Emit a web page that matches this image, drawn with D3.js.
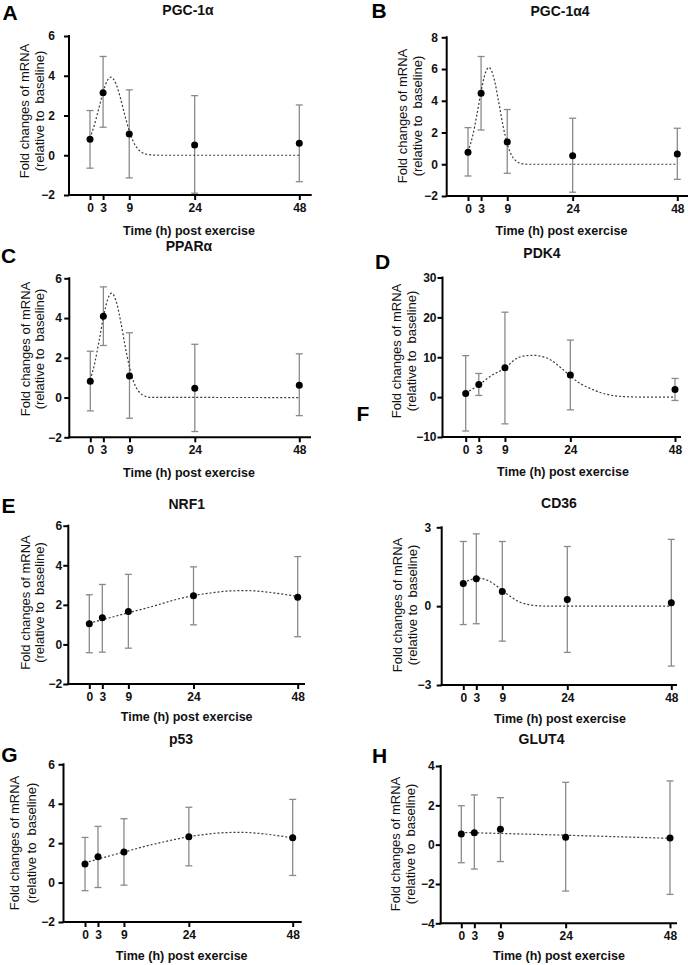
<!DOCTYPE html>
<html>
<head>
<meta charset="utf-8">
<script src="https://cdn.jsdelivr.net/npm/d3@7"></script>
<style>
  html, body { margin: 0; padding: 0; background: #fff; }
  svg { display: block; font-family: "Liberation Sans", Arial, sans-serif; }
</style>
</head>
<body>
<svg id="chart" width="688" height="965"></svg>
<script>
// ---------------- DATA ----------------
const times = [0, 3, 9, 24, 48];
const xTickValues = [0, 3, 9, 24, 48];
const xAxisTitle = "Time (h) post exercise";
const yTitleLine1 = "Fold changes of mRNA";
const yTitleLine2 = "(relative to  baseline)";

// A: PGC-1α
const pgc1aMean  = [0.81, 3.15, 1.07, 0.52, 0.60];
const pgc1aUpper = [2.25, 4.97, 3.29, 3.00, 2.53];
const pgc1aLower = [-0.65, 1.41, -1.14, -1.91, -1.33];
const pgc1aFitX  = [0, 1, 2, 3, 4, 4.8, 6, 7, 8, 9, 10, 11, 12, 13, 14, 16, 48];
const pgc1aFitY  = [0.86, 1.52, 2.34, 3.17, 3.77, 3.93, 3.57, 2.86, 2.0, 1.23, 0.66, 0.31, 0.13, 0.05, 0.02, 0, 0];
const pgc1aTicks = [-2, 0, 2, 4, 6];

// B: PGC-1α4
const pgc1a4Mean  = [0.76, 4.47, 1.41, 0.53, 0.65];
const pgc1a4Upper = [2.31, 6.79, 3.45, 2.90, 2.27];
const pgc1a4Lower = [-0.74, 2.16, -0.57, -1.76, -0.95];
const pgc1a4FitX  = [0, 1, 2, 3, 4, 4.8, 6, 7, 8, 9, 10, 11, 12, 13, 14, 48];
const pgc1a4FitY  = [0.8, 1.71, 3.06, 4.59, 5.77, 6.1, 5.37, 3.98, 2.47, 1.29, 0.56, 0.21, 0.06, 0.015, 0, 0];
const pgc1a4Ticks = [-2, 0, 2, 4, 6, 8];

// C: PPARα
const pparaMean  = [0.82, 4.09, 1.09, 0.47, 0.62];
const pparaUpper = [2.33, 5.57, 3.26, 2.68, 2.20];
const pparaLower = [-0.67, 2.62, -1.04, -1.71, -0.91];
const pparaFitX  = [0, 1, 2, 3, 4, 4.9, 6, 7, 8, 9, 10, 11, 12, 13, 14, 48];
const pparaFitY  = [0.9, 1.72, 2.83, 4.03, 4.95, 5.25, 4.8, 3.8, 2.59, 1.53, 0.77, 0.34, 0.13, 0.04, 0.01, 0];
const pparaTicks = [-2, 0, 2, 4, 6];

// D: PDK4
const pdk4Mean  = [0.92, 3.18, 7.36, 5.52, 1.92];
const pdk4Upper = [10.4, 5.94, 21.3, 14.3, 4.69];
const pdk4Lower = [-8.5, 0.42, -6.7, -3.18, -0.84];
const pdk4FitX  = [0, 3, 5.6, 9, 12, 14, 15.5, 17, 19.3, 22, 24, 26, 28.5, 31, 33, 36, 40, 48];
const pdk4FitY  = [1.05, 3.0, 5.2, 7.3, 9.9, 10.4, 10.5, 10.3, 9.45, 7.2, 5.3, 3.6, 2.2, 1.1, 0.55, 0.15, 0.02, 0];
const pdk4Ticks = [-10, 0, 10, 20, 30];

// E: NRF1
const nrf1Mean  = [1.04, 1.35, 1.67, 2.46, 2.39];
const nrf1Upper = [2.51, 3.03, 3.54, 3.92, 4.44];
const nrf1Lower = [-0.42, -0.39, -0.19, 0.99, 0.39];
const nrf1FitX  = [0, 3, 9, 15, 20, 24, 28, 32, 36, 40, 44, 48];
const nrf1FitY  = [1.08, 1.25, 1.6, 1.95, 2.27, 2.47, 2.6, 2.7, 2.72, 2.67, 2.56, 2.42];
const nrf1Ticks = [-2, 0, 2, 4, 6];

// F: CD36
const cd36Mean  = [0.86, 1.04, 0.56, 0.25, 0.13];
const cd36Upper = [2.46, 2.75, 2.46, 2.27, 2.54];
const cd36Lower = [-0.70, -0.67, -1.33, -1.76, -2.28];
const cd36FitX  = [0, 2, 3.5, 5, 7, 9, 11, 13, 15, 17, 20, 48];
const cd36FitY  = [0.89, 1.02, 1.06, 1.02, 0.85, 0.6, 0.35, 0.16, 0.06, 0.02, 0, 0];
const cd36Ticks = [-3, 0, 3];

// G: p53
const p53Mean  = [0.94, 1.31, 1.55, 2.33, 2.28];
const p53Upper = [2.29, 2.85, 3.24, 3.82, 4.22];
const p53Lower = [-0.41, -0.25, -0.13, 0.85, 0.36];
const p53FitX  = [0, 3, 9, 15, 20, 24, 28, 32, 36, 40, 44, 48];
const p53FitY  = [1.0, 1.19, 1.55, 1.9, 2.15, 2.33, 2.45, 2.53, 2.55, 2.5, 2.4, 2.26];
const p53Ticks = [-2, 0, 2, 4, 6];

// H: GLUT4
const glut4Mean  = [0.54, 0.61, 0.78, 0.37, 0.34];
const glut4Upper = [1.98, 2.53, 2.39, 3.17, 3.24];
const glut4Lower = [-0.92, -1.24, -0.86, -2.36, -2.53];
const glut4FitX  = [0, 9, 24, 48];
const glut4FitY  = [0.62, 0.57, 0.48, 0.32];
const glut4Ticks = [-4, -2, 0, 2, 4];

const geneNames = ["PGC-1α", "PGC-1α4", "PPARα", "PDK4", "NRF1", "CD36", "p53", "GLUT4"];
const panelLetters = ["A", "B", "C", "D", "E", "F", "G", "H"];

// ---------------- LAYOUT (positions only) ----------------
const layouts = [
  { left: 69,    x0: 90,    x48: 299.3, right: 311.7, top: 36,    bottom: 195,   yLabEnd: 55,    yt: [24, 39],       ytY: 111,  title: [188, 10],   xlab: [189, 231],   letter: [10, 12.5] },
  { left: 446.7, x0: 468,   x48: 677.3, right: 688,   top: 37.3,  bottom: 196,   yLabEnd: 438,   yt: [402, 417.5],   ytY: 116,  title: [560, 11],   xlab: [561.5, 231], letter: [379, 10.5] },
  { left: 69.3,  x0: 90.3,  x48: 299.3, right: 311,   top: 278.3, bottom: 437.3, yLabEnd: 62,    yt: [25, 39.5],     ytY: 349,  title: [189, 246],  xlab: [189, 473],   letter: [8.5, 255] },
  { left: 442.5, x0: 465.7, x48: 675,   right: 681,   top: 277.5, bottom: 437,   yLabEnd: 438.5, yt: [396, 411],     ytY: 351,  title: [542, 253],  xlab: [563, 472],   letter: [382.5, 261.5] },
  { left: 68.3,  x0: 89.3,  x48: 297.7, right: 305,   top: 525.7, bottom: 684,   yLabEnd: 65,    yt: [25.3, 39.7],   ytY: 602.5, title: [186.7, 504], xlab: [186.7, 717], letter: [8.5, 505.5] },
  { left: 441.7, x0: 463.3, x48: 671.3, right: 677,   top: 527.3, bottom: 685,   yLabEnd: 431.3, yt: [397.3, 412],   ytY: 605,  title: [559, 502.5], xlab: [560, 718.5], letter: [363, 413.5] },
  { left: 63.5,  x0: 85,    x48: 292.7, right: 301.7, top: 764.3, bottom: 922,   yLabEnd: 55,    yt: [14.7, 31],     ytY: 843,  title: [181, 739],  xlab: [181.7, 956], letter: [9.5, 754.5] },
  { left: 440.7, x0: 461.3, x48: 670,   right: 677,   top: 766,   bottom: 923.3, yLabEnd: 437.3, yt: [395.7, 410.3], ytY: 844,  title: [541.5, 739], xlab: [559, 956],  letter: [379.5, 755] }
];

const series = [
  { mean: pgc1aMean,  upper: pgc1aUpper,  lower: pgc1aLower,  fitX: pgc1aFitX,  fitY: pgc1aFitY,  ticks: pgc1aTicks },
  { mean: pgc1a4Mean, upper: pgc1a4Upper, lower: pgc1a4Lower, fitX: pgc1a4FitX, fitY: pgc1a4FitY, ticks: pgc1a4Ticks },
  { mean: pparaMean,  upper: pparaUpper,  lower: pparaLower,  fitX: pparaFitX,  fitY: pparaFitY,  ticks: pparaTicks },
  { mean: pdk4Mean,   upper: pdk4Upper,   lower: pdk4Lower,   fitX: pdk4FitX,   fitY: pdk4FitY,   ticks: pdk4Ticks },
  { mean: nrf1Mean,   upper: nrf1Upper,   lower: nrf1Lower,   fitX: nrf1FitX,   fitY: nrf1FitY,   ticks: nrf1Ticks },
  { mean: cd36Mean,   upper: cd36Upper,   lower: cd36Lower,   fitX: cd36FitX,   fitY: cd36FitY,   ticks: cd36Ticks },
  { mean: p53Mean,    upper: p53Upper,    lower: p53Lower,    fitX: p53FitX,    fitY: p53FitY,    ticks: p53Ticks },
  { mean: glut4Mean,  upper: glut4Upper,  lower: glut4Lower,  fitX: glut4FitX,  fitY: glut4FitY,  ticks: glut4Ticks }
];

// ---------------- DRAW ----------------
const svg = d3.select("#chart");
const TXT = "#111";

series.forEach((s, i) => {
  const L = layouts[i];
  const g = svg.append("g");
  const ext = d3.extent(s.ticks);
  const x = d3.scaleLinear().domain([0, 48]).range([L.x0, L.x48]);
  const y = d3.scaleLinear().domain(ext).range([L.bottom, L.top]);

  // error bars
  const eb = g.append("g").attr("stroke", "#8a8a8a").attr("stroke-width", 1.3).attr("fill", "none");
  times.forEach((t, k) => {
    const cx = x(t);
    eb.append("line").attr("x1", cx).attr("x2", cx).attr("y1", y(s.lower[k])).attr("y2", y(s.upper[k]));
    eb.append("line").attr("x1", cx - 3.5).attr("x2", cx + 3.5).attr("y1", y(s.upper[k])).attr("y2", y(s.upper[k]));
    eb.append("line").attr("x1", cx - 3.5).attr("x2", cx + 3.5).attr("y1", y(s.lower[k])).attr("y2", y(s.lower[k]));
  });

  // fitted curve
  const pts = s.fitX.map((v, k) => [v, s.fitY[k]]);
  const line = d3.line().x(d => x(d[0])).y(d => y(d[1])).curve(d3.curveMonotoneX);
  g.append("path").attr("d", line(pts)).attr("fill", "none")
    .attr("stroke", "#3a3a3a").attr("stroke-width", 1.2).attr("stroke-dasharray", "2,2");

  // dots
  g.selectAll("circle.dot").data(times).enter().append("circle")
    .attr("cx", t => x(t)).attr("cy", (t, k) => y(s.mean[k])).attr("r", 3.5).attr("fill", "#000");

  // y axis
  const yPad = Math.max(1, L.left - L.yLabEnd - 5);
  const yAx = g.append("g").attr("transform", `translate(${L.left},0)`)
    .call(d3.axisLeft(y).tickValues(s.ticks).tickSize(5).tickPadding(yPad).tickFormat(d3.format("d")));
  yAx.select(".domain").remove();
  yAx.selectAll("line").attr("stroke", "#000").attr("stroke-width", 2);
  yAx.selectAll("text").attr("fill", TXT).attr("font-size", 12).attr("font-weight", "bold")
    .attr("font-family", "Liberation Sans, Arial, sans-serif");

  // x axis
  const xAx = g.append("g").attr("transform", `translate(0,${L.bottom})`)
    .call(d3.axisBottom(x).tickValues(xTickValues).tickSize(5).tickPadding(3).tickFormat(d3.format("d")));
  xAx.select(".domain").remove();
  xAx.selectAll("line").attr("stroke", "#000").attr("stroke-width", 2);
  xAx.selectAll("text").attr("fill", TXT).attr("font-size", 12).attr("font-weight", "bold")
    .attr("font-family", "Liberation Sans, Arial, sans-serif");

  // axis lines
  g.append("line").attr("x1", L.left).attr("x2", L.left).attr("y1", y(ext[1]) - 1).attr("y2", L.bottom + 1)
    .attr("stroke", "#000").attr("stroke-width", 2);
  g.append("line").attr("x1", L.left - 1).attr("x2", L.right).attr("y1", L.bottom).attr("y2", L.bottom)
    .attr("stroke", "#000").attr("stroke-width", 2);

  // y title (two lines)
  [yTitleLine1, yTitleLine2].forEach((txt, k) => {
    g.append("text")
      .attr("transform", `translate(${L.yt[k]},${L.ytY}) rotate(-90)`)
      .attr("text-anchor", "middle").attr("dominant-baseline", "central")
      .attr("xml:space", "preserve").style("white-space", "pre")
      .attr("font-size", 13).attr("fill", TXT).text(txt);
  });

  // x title
  g.append("text").attr("x", L.xlab[0]).attr("y", L.xlab[1])
    .attr("text-anchor", "middle").attr("dominant-baseline", "central")
    .attr("font-size", 12.5).attr("font-weight", "bold").attr("fill", TXT).text(xAxisTitle);

  // panel title
  g.append("text").attr("x", L.title[0]).attr("y", L.title[1])
    .attr("text-anchor", "middle").attr("dominant-baseline", "central")
    .attr("font-size", 14).attr("font-weight", "bold").attr("fill", TXT).text(geneNames[i]);

  // panel letter
  g.append("text").attr("x", L.letter[0]).attr("y", L.letter[1])
    .attr("text-anchor", "middle").attr("dominant-baseline", "central")
    .attr("font-size", 21).attr("font-weight", "bold").attr("fill", "#000").text(panelLetters[i]);
});
</script>
</body>
</html>
